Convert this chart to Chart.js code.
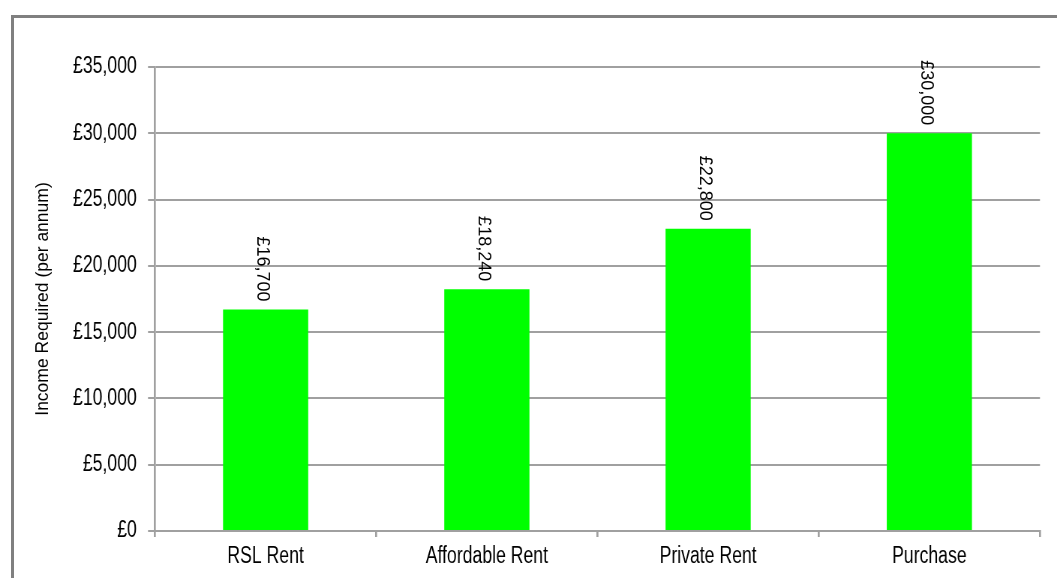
<!DOCTYPE html>
<html>
<head>
<meta charset="utf-8">
<script src="https://cdn.jsdelivr.net/npm/chart.js@4/dist/chart.umd.min.js"></script>
<style>
html,body{margin:0;padding:0;background:#fff;overflow:hidden;width:1057px;height:578px;}
#frame{position:absolute;left:11px;top:15px;width:1200px;height:700px;border:3px solid #808080;box-sizing:border-box;}
#wrap{position:absolute;left:0;top:0;width:1409px;height:578px;transform:scaleX(0.75018);transform-origin:0 0;}
</style>
</head>
<body>
<div id="frame"></div>
<div id="wrap"><canvas id="c"></canvas></div>
<script>
// ---- data ----
const categories = ['RSL Rent', 'Affordable Rent', 'Private Rent', 'Purchase'];
const incomeRequired = [16700, 18240, 22800, 30000];
const valueLabels = ['£16,700', '£18,240', '£22,800', '£30,000'];
const yAxisTitle = 'Income Required (per annum)';
const yMin = 0, yMax = 35000, yStep = 5000;

// ---- styling ----
const SX = 0.75018; // horizontal squish applied by CSS
const GRID = '#a0a0a0';
const FONT = '"Liberation Sans", Arial, sans-serif';
Chart.defaults.font.family = FONT;
Chart.defaults.color = '#000';

const textPlugin = {
  id: 'textPlugin',
  afterDatasetsDraw(chart) {
    const ctx = chart.ctx;
    const meta = chart.getDatasetMeta(0);
    ctx.save();
    ctx.font = '18px ' + FONT;
    ctx.fillStyle = '#000';
    meta.data.forEach((bar, i) => {
      ctx.save();
      ctx.translate(bar.x - 4, bar.y - 8);
      ctx.scale(1 / SX, 1);
      ctx.rotate(Math.PI / 2);
      ctx.textAlign = 'right';
      ctx.textBaseline = 'middle';
      ctx.fillText(valueLabels[i], 0, 0);
      ctx.restore();
    });
    // y-axis title
    const area = chart.chartArea;
    ctx.save();
    ctx.font = '17.5px ' + FONT;
    ctx.translate(43.5 / SX, (area.top + area.bottom) / 2);
    ctx.scale(1 / SX, 1);
    ctx.rotate(-Math.PI / 2);
    ctx.textAlign = 'center';
    ctx.textBaseline = 'middle';
    ctx.fillText(yAxisTitle, 0, 0);
    ctx.restore();
    ctx.restore();
  }
};

new Chart(document.getElementById('c'), {
  type: 'bar',
  data: {
    labels: categories,
    datasets: [{
      data: incomeRequired,
      backgroundColor: '#00ff00',
      borderWidth: 0,
      barPercentage: 1,
      categoryPercentage: 0.385
    }]
  },
  options: {
    responsive: true,
    maintainAspectRatio: false,
    animation: false,
    layout: { padding: { top: 67, right: 22.7, bottom: 0, left: 0 } },
    plugins: { legend: { display: false }, tooltip: { enabled: false } },
    scales: {
      x: {
        type: 'category',
        offset: true,
        afterFit(scale) { scale.height = 47; },
        grid: { display: true, drawOnChartArea: false, drawTicks: true, tickLength: 6, lineWidth: 2.67, color: GRID, offset: true },
        border: { display: true, color: GRID, width: 2 },
        ticks: { font: { size: 23.5 }, color: '#000', padding: 5, maxRotation: 0, autoSkip: false }
      },
      y: {
        min: yMin,
        max: yMax,
        afterFit(scale) { scale.width = 206.6; },
        grid: { color: GRID, lineWidth: 2, tickLength: 9.3, drawTicks: true },
        border: { display: true, color: GRID, width: 2.67 },
        ticks: {
          stepSize: yStep,
          font: { size: 23.5 },
          color: '#000',
          padding: 15,
          callback: v => '£' + Number(v).toLocaleString('en-GB')
        },
        title: { display: false, text: yAxisTitle }
      }
    }
  },
  plugins: [textPlugin]
});
</script>
</body>
</html>
